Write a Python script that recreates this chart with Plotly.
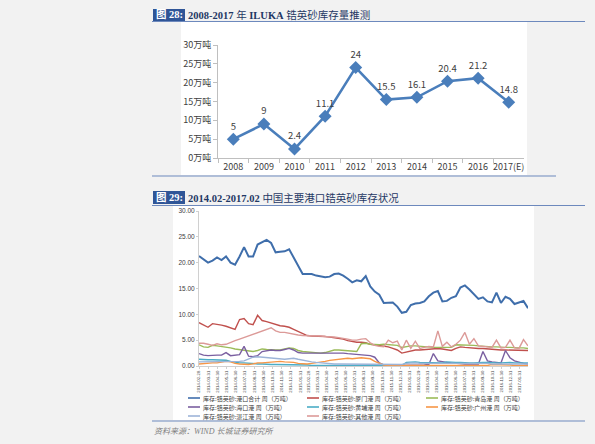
import plotly.graph_objects as go
import pandas as pd

W, H = 595, 444
FONT = "Noto Sans CJK SC"

# ---------------- Chart 1 data ----------------
YEARS = ["2008", "2009", "2010", "2011", "2012", "2013", "2014", "2015", "2016", "2017(E)"]
STOCK = [5, 9, 2.4, 11.1, 24, 15.5, 16.1, 20.4, 21.2, 14.8]

# ---------------- Chart 2 data (semi-monthly readings, 万吨) ----------------
START_DATE = "2014-02-28"
TICK_DATES = [
    "2014-02-28", "2014-03-31", "2014-04-30", "2014-05-31", "2014-06-30", "2014-07-31",
    "2014-08-31", "2014-09-30", "2014-10-31", "2014-11-30", "2014-12-31", "2015-01-31",
    "2015-02-28", "2015-03-31", "2015-04-30", "2015-05-31", "2015-06-30", "2015-07-31",
    "2015-08-31", "2015-09-30", "2015-10-31", "2015-11-30", "2015-12-31", "2016-01-31",
    "2016-02-29", "2016-03-31", "2016-04-30", "2016-05-31", "2016-06-30", "2016-07-31",
    "2016-08-31", "2016-09-30", "2016-10-31", "2016-11-30", "2016-12-31", "2017-01-31",
]

TOTAL = [21.3, 20.7, 20.0, 20.4, 21.0, 20.5, 21.2, 20.0, 19.6, 21.2,
         23.0, 21.2, 21.2, 23.5, 23.9, 24.4, 23.8, 22.0, 22.1, 22.2,
         22.6, 21.0, 19.4, 17.8, 17.8, 17.8, 17.5, 17.3, 17.2, 17.3,
         17.8, 17.9, 17.5, 16.9, 16.2, 16.6, 16.4, 17.4, 15.4, 14.4,
         13.8, 12.2, 12.2, 12.3, 11.5, 10.3, 10.5, 11.8, 12.1, 12.2,
         12.5, 13.5, 14.2, 14.5, 12.5, 12.6, 13.2, 13.5, 15.2, 15.6,
         14.8, 13.8, 13.0, 13.3, 12.5, 12.3, 14.2, 12.2, 13.4, 13.0,
         12.0, 12.3, 12.6, 11.2]
XIAMEN = [8.4, 7.9, 7.5, 8.2, 8.1, 7.9, 7.7, 7.4, 7.1, 9.0,
          9.2, 8.2, 8.0, 9.8, 8.8, 8.6, 8.3, 8.0, 7.8, 7.7,
          7.5, 7.1, 6.7, 6.2, 5.9, 5.8, 5.8, 5.7, 5.7, 5.6,
          5.5, 5.4, 5.2, 4.9, 4.7, 4.6, 4.6, 4.5, 4.2, 4.1,
          3.9, 3.8, 3.7, 3.4, 3.1, 2.5, 2.7, 3.0, 3.1, 3.1,
          3.2, 3.3, 3.4, 3.4, 3.3, 3.1, 3.0, 3.4, 3.7, 3.6,
          3.5, 3.5, 3.4, 3.4, 3.3, 3.2, 3.2, 3.1, 3.1, 3.1,
          3.0, 3.0, 3.0, 3.0]
QINGDAO = [4.1, 3.7, 3.6, 4.0, 3.9, 3.8, 3.7, 3.5, 3.3, 3.2,
           3.1, 3.0, 2.8, 3.0, 3.3, 3.2, 3.1, 3.1, 3.1, 3.3,
           3.5, 3.4, 3.0, 2.8, 2.7, 2.6, 2.5, 2.5, 2.6, 2.8,
           3.1, 3.1, 3.0, 2.9, 2.8, 2.8, 4.3, 4.4, 4.2, 4.1,
           4.1, 4.2, 4.1, 4.1, 4.0, 3.6, 3.8, 3.9, 3.9, 3.8,
           3.7, 3.7, 3.6, 3.6, 3.6, 3.5, 3.6, 4.1, 4.1, 4.0,
           4.0, 4.0, 3.9, 3.8, 3.8, 3.7, 3.7, 3.6, 3.6, 3.6,
           3.5, 3.5, 3.5, 3.4]
HAIKOU = [2.4, 2.1, 2.0, 2.1, 2.1, 2.1, 2.6, 2.0, 2.1, 2.2,
          3.8, 1.9, 1.8, 2.0, 2.8, 3.0, 3.1, 3.0, 3.0, 3.2,
          3.4, 3.1, 2.6, 2.5, 2.5, 2.5, 2.5, 2.5, 2.5, 2.5,
          2.6, 2.6, 2.5, 2.4, 2.3, 2.2, 2.1, 2.0, 2.0, 1.7,
          0.6, 0.2, 0.1, 0.1, 0.1, 0.1, 0.1, 0.1, 0.1, 0.2,
          0.2, 0.3, 2.4, 1.0, 0.8, 0.7, 0.6, 0.5, 0.5, 0.4,
          0.4, 0.4, 0.4, 2.8, 1.0, 0.8, 0.7, 0.6, 3.0, 1.6,
          1.0, 0.7, 0.5, 0.4]
HUANGPU = [1.3, 1.2, 1.2, 1.2, 1.2, 1.1, 1.1, 0.9, 0.7, 0.6,
           0.6, 0.5, 0.5, 0.4, 0.4, 0.3, 0.3, 0.3, 0.3, 0.2,
           0.2, 0.2, 0.2, 0.2, 0.2, 0.1, 0.1, 0.1, 0.1, 0.1,
           0.1, 0.1, 0.1, 0.1, 0.1, 0.1, 0.1, 0.1, 0.1, 0.1,
           0.1, 0.1, 0.1, 0.1, 0.1, 0.1, 0.7, 0.8, 0.8, 0.7,
           0.7, 0.6, 0.7, 0.7, 0.6, 0.8, 0.7, 0.7, 0.7, 0.6,
           0.6, 0.6, 0.7, 0.7, 0.7, 0.6, 0.6, 0.6, 0.7, 0.7,
           0.6, 0.6, 0.6, 0.6]
GUANGZHOU = [0.4, 0.5, 0.5, 0.6, 0.6, 0.7, 0.9, 0.8, 0.5, 0.4,
             0.3, 0.3, 0.4, 0.6, 0.6, 0.7, 0.8, 0.9, 0.9, 0.8,
             0.8, 0.7, 0.5, 0.4, 0.4, 0.5, 0.6, 0.7, 0.9, 1.1,
             1.2, 1.3, 1.4, 1.5, 1.4, 1.5, 1.6, 1.5, 1.4, 0.9,
             0.5, 0.2, 0.1, 0.1, 0.1, 0.1, 0.1, 0.1, 0.1, 0.1,
             0.1, 0.1, 0.1, 0.1, 0.1, 0.1, 0.1, 0.1, 0.1, 0.1,
             0.1, 0.1, 0.1, 0.1, 0.1, 0.3, 0.3, 0.3, 0.3, 0.2,
             0.1, 0.1, 0.1, 0.1]
ZHANJIANG = [0.8, 0.8, 0.9, 0.9, 0.8, 0.8, 0.8, 0.8, 0.9, 0.9,
             1.0, 1.3, 1.7, 1.8, 1.7, 1.6, 1.5, 1.4, 1.3, 1.3,
             1.4, 1.5, 1.3, 1.1, 0.9, 0.8, 0.7, 0.6, 0.5, 0.5,
             0.4, 0.4, 0.4, 0.4, 0.4, 0.4, 0.4, 0.4, 0.4, 0.3,
             0.3, 0.3, 0.3, 0.3, 0.3, 0.3, 0.5, 0.6, 0.6, 0.5,
             0.5, 0.6, 0.5, 0.5, 0.5, 0.6, 0.5, 0.5, 0.5, 0.5,
             0.5, 0.5, 0.5, 0.5, 0.5, 0.4, 0.4, 0.4, 0.4, 0.4,
             0.4, 0.4, 0.4, 0.4]
OTHER = [4.4, 4.4, 4.2, 4.0, 4.3, 4.1, 4.2, 4.6, 4.9, 5.2,
         5.5, 5.8, 6.1, 6.4, 6.8, 7.1, 7.4, 6.8, 6.5, 6.5,
         6.3, 6.2, 6.0, 5.9, 5.9, 5.8, 5.8, 5.8, 5.7, 5.7,
         5.6, 5.5, 5.4, 5.2, 5.0, 5.0, 5.2, 5.3, 4.5, 4.0,
         3.8, 3.7, 5.0, 4.5, 4.8, 3.1, 5.0, 3.4, 4.8, 3.4,
         3.6, 3.8, 3.7, 6.8, 3.8, 4.6, 3.7, 4.2, 5.0, 6.5,
         4.2, 5.3, 3.9, 3.8, 3.7, 3.6, 5.0, 3.5, 3.6, 5.0,
         3.5, 3.4, 5.1, 3.9]

SERIES_NAMES = [
    "库存:锆英砂:港口合计 周（万吨）", "库存:锆英砂:厦门港 周（万吨）", "库存:锆英砂:青岛港 周（万吨）",
    "库存:锆英砂:海口港 周（万吨）", "库存:锆英砂:黄埔港 周（万吨）", "库存:锆英砂:广州港 周（万吨）",
    "库存:锆英砂:湛江港 周（万吨）", "库存:锆英砂:其他港 周（万吨）",
]
SERIES_VALUES = [TOTAL, XIAMEN, QINGDAO, HAIKOU, HUANGPU, GUANGZHOU, ZHANJIANG, OTHER]
SERIES_COLORS = ["#3f6eab", "#c0504d", "#9bbb59", "#7a5fa0", "#4bacc6", "#f79646", "#9db4d8", "#dc9a98"]
SERIES_WIDTHS = [2.0, 1.4, 1.4, 1.4, 1.4, 1.4, 1.4, 1.4]

DATES = pd.date_range(START_DATE, periods=len(TOTAL), freq="15D")


def px(x):
    return x / W


def py(y):
    return 1 - y / H


fig = go.Figure()

# Chart 1
fig.add_trace(go.Scatter(
    x=YEARS, y=STOCK, mode="lines+markers+text",
    text=[f"{v:g}" for v in STOCK], textposition="top center",
    textfont=dict(size=9.5, color="#404040", family=FONT),
    line=dict(color="#4a7ebb", width=2.5),
    marker=dict(symbol="diamond", size=10, color="#4a7ebb"),
    xaxis="x", yaxis="y", showlegend=False, cliponaxis=False, hoverinfo="skip",
))

# Chart 2
for name, vals, col, wd in zip(SERIES_NAMES, SERIES_VALUES, SERIES_COLORS, SERIES_WIDTHS):
    fig.add_trace(go.Scatter(
        x=DATES, y=vals, mode="lines", name=name,
        line=dict(color=col, width=wd),
        xaxis="x2", yaxis="y2", showlegend=False, hoverinfo="skip",
    ))

shapes = []
annotations = []
LINE_BLUE = "#6d89bd"

# white chart backgrounds
shapes.append(dict(type="rect", xref="paper", yref="paper", x0=px(181), x1=px(527), y0=py(175), y1=py(22),
                   fillcolor="white", line=dict(width=0), layer="below"))
shapes.append(dict(type="rect", xref="paper", yref="paper", x0=px(173), x1=px(534), y0=py(420), y1=py(206),
                   fillcolor="white", line=dict(width=0), layer="below"))

# separator lines
for (x0, x1, y) in [(152, 585, 21.5), (152, 556, 176), (152, 585, 205.5), (152, 585, 421)]:
    shapes.append(dict(type="line", xref="paper", yref="paper", x0=px(x0), x1=px(x1), y0=py(y), y1=py(y),
                       line=dict(color=LINE_BLUE, width=1)))

# title boxes and titles
SERIF = "Liberation Serif, " + FONT
for (ytop, ybot, label, title_latin, title_cjk) in [
        (9, 21, "图 28:", "2008-2017 ", "年 <b>ILUKA</b> 锆英砂库存量推测"),
        (191, 204, "图 29:", "2014.02-2017.02 ", "中国主要港口锆英砂库存状况")]:
    shapes.append(dict(type="rect", xref="paper", yref="paper", x0=px(153), x1=px(185), y0=py(ybot), y1=py(ytop),
                       fillcolor="#2f5597", line=dict(width=0)))
    annotations.append(dict(xref="paper", yref="paper", x=px(169), y=py((ytop + ybot) / 2), text=f"<b>{label}</b>",
                            showarrow=False, xanchor="center", yanchor="middle",
                            font=dict(size=10.5, color="white", family=SERIF)))
    annotations.append(dict(xref="paper", yref="paper", x=px(186), y=py((ytop + ybot) / 2),
                            text=f"<b>{title_latin}</b>{title_cjk}",
                            showarrow=False, xanchor="left", yanchor="middle",
                            font=dict(size=10.5, color="#1f3864", family=SERIF)))

# manual legend for chart 2
COL_X = [188, 307, 426]
ROW_Y = [398, 407, 416]
for i, (name, col) in enumerate(zip(SERIES_NAMES, SERIES_COLORS)):
    cx = COL_X[i % 3]
    ry = ROW_Y[i // 3]
    shapes.append(dict(type="line", xref="paper", yref="paper", x0=px(cx), x1=px(cx + 12), y0=py(ry), y1=py(ry),
                       line=dict(color=col, width=1.6)))
    annotations.append(dict(xref="paper", yref="paper", x=px(cx + 13), y=py(ry), text=name,
                            showarrow=False, xanchor="left", yanchor="middle",
                            font=dict(size=6, color="#404040", family=FONT)))

# footer
annotations.append(dict(xref="paper", yref="paper", x=px(152), y=py(431), text="<i>资料来源：WIND 长城证券研究所</i>",
                        showarrow=False, xanchor="left", yanchor="middle",
                        font=dict(size=8, color="#7f7f7f", family=SERIF)))

AX_GRAY = "#bfbfbf"
SMALL = "Liberation Sans, Arial, sans-serif"
fig.update_layout(
    width=W, height=H,
    autosize=False,
    margin=dict(l=0, r=0, t=0, b=0, pad=0, autoexpand=False),
    paper_bgcolor="#f2f2f2",
    plot_bgcolor="white",
    font=dict(family=FONT, color="#404040"),
    showlegend=False,
    hovermode=False,
    shapes=shapes,
    annotations=annotations,
    xaxis=dict(domain=[px(218), px(524)], anchor="y", type="category", range=[-0.5, 9.5], automargin=False,
               showline=True, linecolor=AX_GRAY, linewidth=1, ticks="outside", tickson="boundaries",
               ticklen=4, tickcolor=AX_GRAY, showgrid=False, zeroline=False, tickangle=0,
               tickfont=dict(size=9, color="#404040", family=FONT)),
    yaxis=dict(domain=[py(158), py(45)], anchor="x", range=[0, 30], dtick=5, ticksuffix="万吨", automargin=False,
               showline=True, linecolor=AX_GRAY, linewidth=1, ticks="outside", ticklen=4, tickcolor=AX_GRAY,
               showgrid=False, zeroline=False, tickfont=dict(size=9, color="#404040", family=FONT)),
    xaxis2=dict(domain=[px(199), px(528)], anchor="y2", type="date", automargin=False,
                range=[DATES[0], DATES[-1]], tickvals=TICK_DATES, tickformat="%Y-%m-%d", tickangle=-90,
                showline=True, linecolor="#d0d0d0", linewidth=1, ticks="outside", ticklen=2, tickcolor="#d0d0d0",
                showgrid=False, zeroline=False, tickfont=dict(size=4.3, color="#404040", family=SMALL)),
    yaxis2=dict(domain=[py(366), py(211)], anchor="x2", range=[0, 30], dtick=5, tickformat=".2f", automargin=False,
                showline=True, linecolor="#d0d0d0", linewidth=1, ticks="outside", ticklen=2, tickcolor="#d0d0d0",
                showgrid=False, zeroline=False, tickfont=dict(size=6.5, color="#404040", family=SMALL)),
)

fig.write_html("out.html", config={"displayModeBar": False, "staticPlot": True},
               post_script="document.body.style.margin='0';document.body.style.overflow='hidden';")
